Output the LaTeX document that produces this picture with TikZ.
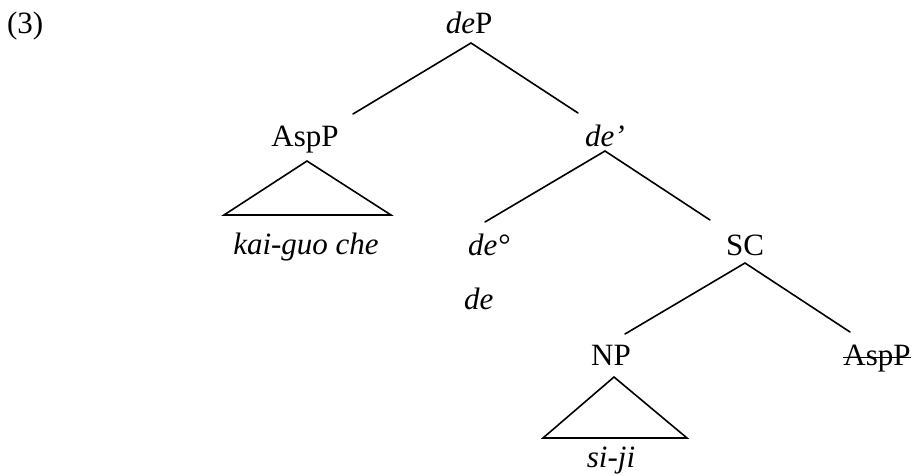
\documentclass[tikz,border=0pt]{standalone}
\usepackage{fontspec}
\setmainfont{Liberation Serif}
\begin{document}
\begin{tikzpicture}[x=1pt,y=-1pt,
  lab/.style={font=\fontsize{31}{37}\selectfont, inner sep=0pt, outer sep=0pt,
    text height=21pt, text depth=7pt, anchor=base},
  edge/.style={line width=1.6pt, line cap=round},
  tri/.style={line width=1.6pt, line join=miter}]
\useasboundingbox (0,0) rectangle (916,475);
% labels
\node[lab, anchor=base west] (ex) at (7,33) {(3)};
\node[lab] (deP) at (469,33) {\textit{de}P};
\node[lab] (AspPa) at (305,146) {AspP};
\node[lab] (debar) at (605,146) {\textit{de’}};
\node[lab] (kai) at (306,254) {\textit{kai-guo che}};
\node[lab, anchor=base west] (dezero) at (468,255) {\textit{de°}};
\node[lab, anchor=base west] (de) at (464,309) {\textit{de}};
\node[lab] (SC) at (745,255) {SC};
\node[lab] (NP) at (611,365) {NP};
\node[lab] (AspPb) at (877,365) {AspP};
\node[lab] (siji) at (611,467) {\textit{si-ji}};
% edges
\draw[edge] ([shift={(48,-11)}]AspPa.north) -- ([shift={(2,3)}]deP.south) -- ([shift={(-27,-12)}]debar.north);
\draw[edge] ([shift={(17,-12)}]dezero.north west) -- ([shift={(0,-2)}]debar.south) -- ([shift={(-35,-14)}]SC.north);
\draw[edge] ([shift={(14,-10)}]NP.north) -- ([shift={(0,1)}]SC.south) -- ([shift={(-27,-12)}]AspPb.north);
% triangles
\draw[tri] ([shift={(2,8)}]AspPa.south) -- ([shift={(-82,-18)}]kai.north) -- ([shift={(85,-18)}]kai.north) -- cycle;
\draw[tri] ([shift={(3,5)}]NP.south) -- ([shift={(-68,-8)}]siji.north) -- ([shift={(76,-8)}]siji.north) -- cycle;
% strike-through
\draw[line width=1pt] ([shift={(0,-8)}]AspPb.base west) -- ([shift={(0,-8)}]AspPb.base east);
\end{tikzpicture}
\end{document}
